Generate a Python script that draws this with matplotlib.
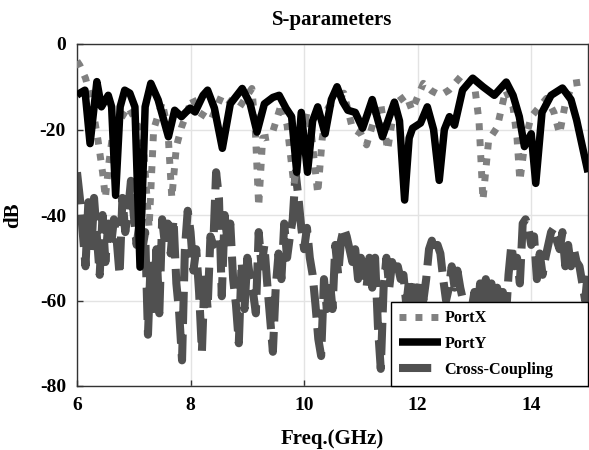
import matplotlib
matplotlib.use("Agg")
import matplotlib.pyplot as plt
from matplotlib.ticker import FixedLocator

# ---- data (GHz, dB) ----
portx_f = [6.00, 6.05, 6.15, 6.25, 6.37, 6.45, 6.50, 6.56, 6.63, 6.72, 6.90, 7.00,
           7.10, 7.18, 7.27, 7.35, 7.50, 7.60, 7.67, 7.75, 7.84, 8.03, 8.15, 8.36,
           8.55, 8.85, 9.08, 9.14, 9.20, 9.27, 9.42, 9.60, 9.70, 9.82, 9.92, 10.05,
           10.12, 10.24, 10.32, 10.42, 10.55, 10.70, 10.85, 11.00, 11.10, 11.25,
           11.35, 11.47, 11.60, 11.80, 11.90, 12.10, 12.25, 12.40, 12.55, 12.78,
           13.00, 13.08, 13.15, 13.25, 13.40, 13.55, 13.68, 13.75, 13.80, 13.90,
           14.00, 14.27, 14.40, 14.50, 14.60, 14.73, 15.00]
portx_db = [-4, -5, -8, -13, -22.5, -30, -36, -28, -21, -18.6, -14.7, -17,
            -20, -26, -43, -20, -13.6, -20, -36, -24, -19.5, -12.7, -16, -17.8,
            -12, -15, -10.4, -20, -38, -22, -21.7, -14, -19, -33, -24, -16,
            -20, -35, -22, -15, -13, -11.5, -19.7, -21, -23.6, -17,
            -14, -24.8, -14, -12, -15.5, -9.2, -11, -12, -10.8, -7.3,
            -9.5, -18, -36.5, -22.5, -19.5, -10.8, -14.7, -22, -32, -22,
            -17, -12.7, -16, -21, -14, -9.2, -8.7]

porty_f = [6.00, 6.05, 6.14, 6.23, 6.35, 6.43, 6.55, 6.61, 6.68, 6.76, 6.84, 6.93,
           7.02, 7.11, 7.20, 7.30, 7.43, 7.61, 7.72, 7.84, 7.99, 8.08, 8.22, 8.30,
           8.42, 8.56, 8.70, 8.91, 9.05, 9.17, 9.30, 9.45, 9.56, 9.68, 9.78, 9.87,
           9.95, 10.06, 10.15, 10.24, 10.37, 10.48, 10.58, 10.68, 10.77, 10.90,
           11.03, 11.20, 11.38, 11.59, 11.68, 11.77, 11.85, 11.91, 12.05, 12.17,
           12.28, 12.38, 12.47, 12.56, 12.65, 12.79, 12.97, 13.15, 13.35, 13.56,
           13.68, 13.79, 13.88, 14.00, 14.08, 14.19, 14.35, 14.55, 14.70, 14.80,
           15.00]
porty_db = [-12, -11.5, -10.8, -23.3, -8.8, -14.7, -12, -14.7, -35.4, -14.7, -10.8, -11.5,
            -14.7, -52.2, -14.7, -9.2, -13.1, -21.7, -15.5, -17, -15, -15.9, -12, -10.8,
            -15, -24.4, -14, -10.4, -14, -20.6, -14, -12.5, -12, -15, -17, -30,
            -16, -30, -18, -14.7, -21, -13, -10, -13.5, -15.5, -16,
            -19.7, -13, -21.7, -13.6, -18, -36.5, -22, -19.7, -18.5, -14.7,
            -20, -31.9, -20, -17, -19, -10.8, -8, -10, -12, -8.9,
            -12, -17, -24, -21, -32.6, -16, -12, -10.3, -13, -17.8,
            -30]

cross_f = [round(6.0 + 0.05 * i, 2) for i in range(181)]
cross_db = [
    # 6.00 - 6.95
    -30, -36, -44, -52, -37, -49, -36, -45, -54, -40,
    -51, -42, -47, -41, -46, -54, -36, -44, -39, -32,
    # 7.00 - 7.95
    -40, -47, -42, -48, -44, -68, -50, -62, -48, -63,
    -41, -47, -42, -49, -41, -56, -63, -74, -48, -39,
    # 8.00 - 8.95
    -44, -53, -48, -58, -72, -53, -62, -45, -47, -30,
    -36, -59, -40, -46, -42, -55, -61, -70, -51, -62,
    # 9.00 - 9.95
    -50, -55, -58, -63, -44, -52, -47, -56, -64, -72,
    -57, -49, -55, -42, -50, -45, -41, -30, -36, -43,
    # 10.00 - 10.95
    -48, -43, -50, -54, -61, -69, -73, -55, -62, -55,
    -62, -47, -54, -46, -43, -45, -48, -51, -48, -55,
    # 11.00 - 11.95
    -50, -53, -57, -50, -57, -50, -66, -76, -57, -50,
    -57, -51, -54, -52, -55, -54, -61, -55, -60, -56,
    # 12.00 - 12.95
    -61, -56, -60, -55, -48, -46, -49, -47, -49, -55,
    -60, -57, -52, -57, -53, -57, -60, -64, -66, -62,
    # 13.00 - 13.95
    -58, -63, -56, -61, -55, -60, -56, -61, -57, -62,
    -58, -65, -54, -47, -52, -50, -56, -42, -41, -43,
    # 14.00 - 15.00
    -47, -45, -55, -49, -54, -50, -47, -44, -43, -46,
    -48, -44, -52, -47, -52, -48, -51, -52, -56, -60,
    -53,
]

x_ticks = [6, 8, 10, 12, 14]
y_ticks = [0, -20, -40, -60, -80]

# ---- figure ----
plt.rcParams['font.family'] = ['Liberation Serif', 'DejaVu Serif']
plt.rcParams['font.weight'] = 'bold'

fig = plt.figure(figsize=(5.89, 4.5), dpi=100)
ax = fig.add_axes([77 / 589, 1 - 386 / 450, 511 / 589, 342 / 450])

ax.plot(portx_f, portx_db, color='#808080', lw=5, dashes=(1, 1.3),
        dash_capstyle='butt', label='PortX', zorder=3)
ax.plot(porty_f, porty_db, color='black', lw=5.4, solid_joinstyle='round',
        solid_capstyle='butt', label='PortY', zorder=4)
ax.plot(cross_f, cross_db, color='#505050', lw=5.8, dashes=(4.0, 1.3),
        dash_capstyle='butt', dash_joinstyle='round', label='Cross-Coupling', zorder=2)

ax.set_xlim(6, 15)
ax.set_ylim(-80, 0)
ax.xaxis.set_major_locator(FixedLocator(x_ticks))
ax.yaxis.set_major_locator(FixedLocator(y_ticks))
ax.set_xticklabels([str(v) for v in x_ticks], fontsize=14, fontweight='bold')
ax.set_yticklabels([str(v) for v in y_ticks], fontsize=14, fontweight='bold')
ax.tick_params(direction='in', length=4, width=1, color='#333333', pad=8)
ax.grid(True, color='#e3e3e3', lw=1)
ax.set_axisbelow(True)
for s in ax.spines.values():
    s.set_color('#333333')
    s.set_linewidth(1)

ax.set_title('S-parameters', fontsize=15, fontweight='bold', pad=14)
ax.set_xlabel('Freq.(GHz)', fontsize=15, fontweight='bold', labelpad=11)
ax.set_ylabel('dB', fontsize=15, fontweight='bold', labelpad=12)

leg = ax.legend(loc='lower left', bbox_to_anchor=(0.614, 0.0, 0.386, 0.24),
                mode='expand', borderaxespad=0, fancybox=False, framealpha=1,
                edgecolor='black', handlelength=2.6,
                handletextpad=0.2, labelspacing=0.6, borderpad=0.5,
                prop={'weight': 'bold', 'size': 11.7})
leg.get_frame().set_linewidth(1)
leg.set_zorder(10)

fig.savefig('out.png', dpi=100)
